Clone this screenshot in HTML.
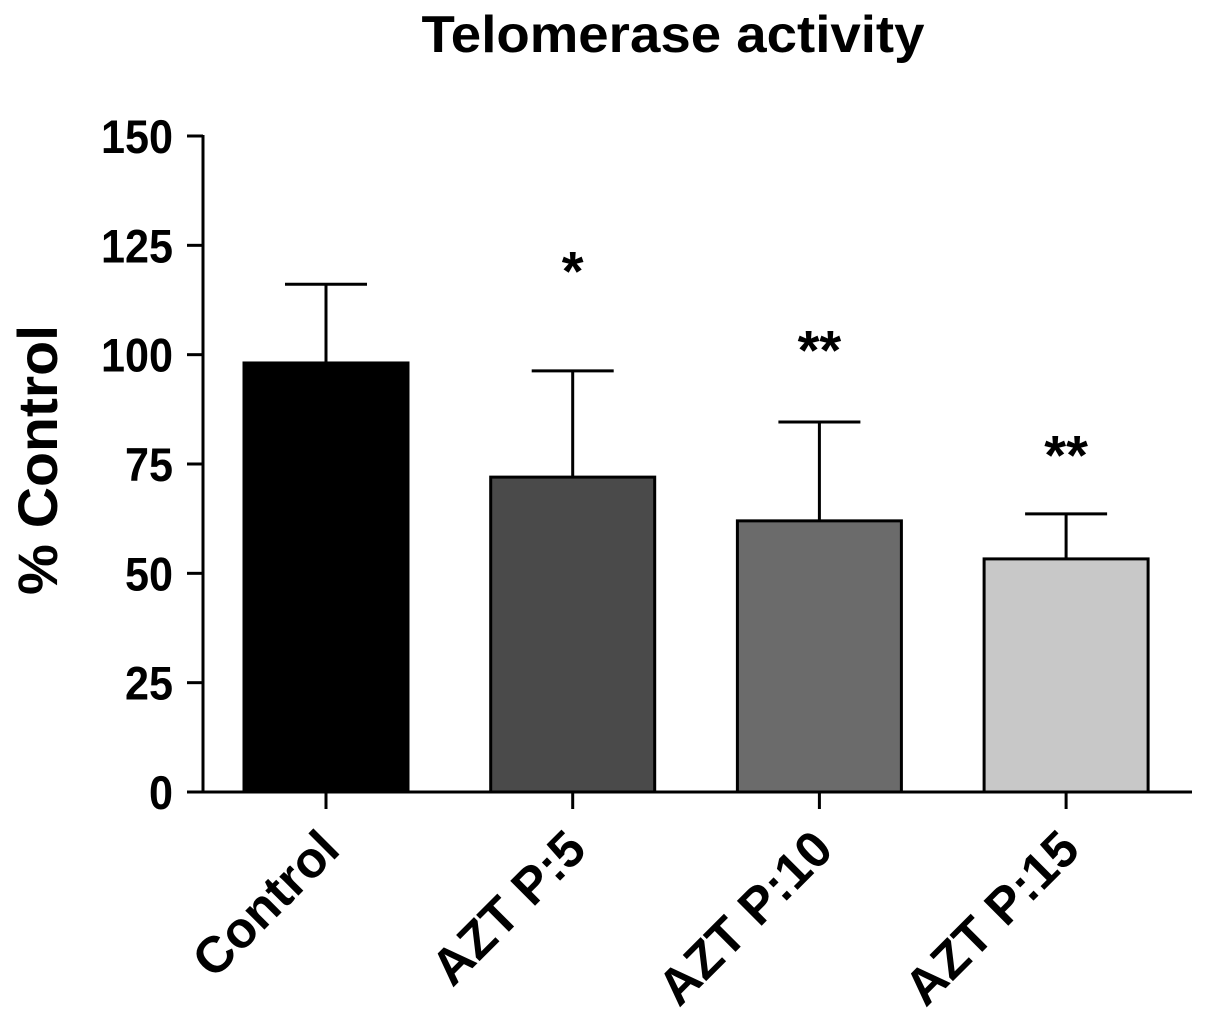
<!DOCTYPE html>
<html><head><meta charset="utf-8"><style>body{margin:0;background:#fff}</style></head>
<body>
<svg width="1205" height="1012" xmlns="http://www.w3.org/2000/svg" font-family="Liberation Sans, sans-serif" font-weight="bold">
<text x="673" y="52" text-anchor="middle" font-size="52" textLength="503" lengthAdjust="spacingAndGlyphs">Telomerase activity</text>
<text transform="translate(57,460) rotate(-90)" text-anchor="middle" font-size="56" textLength="270" lengthAdjust="spacingAndGlyphs">% Control</text>
<g id="plot"></g>
</svg>
<script>
const categories=["Control","AZT P:5","AZT P:10","AZT P:15"];
const values=[98.1,72,62,53.3];
const errors=[18,24.3,22.6,10.3];
const stars=["","*","**","**"];
const starValues=[0,121.5,103.5,79.5];
const yTicks=[0,25,50,75,100,125,150];
const colors=["#000000","#4a4a4a","#6b6b6b","#c8c8c8"];
const NS="http://www.w3.org/2000/svg";
const g=document.getElementById('plot');
const y0=792,y1=136,x0=203,x1=1192;
const y=v=>y0-(v/150)*(y0-y1);
const xc=i=>326+i*246.7;
function el(t,a,txt){const e=document.createElementNS(NS,t);for(const k in a)e.setAttribute(k,a[k]);if(txt!==undefined)e.textContent=txt;g.appendChild(e);return e;}
categories.forEach((c,i)=>{
 const cx=xc(i);
 const b=el('rect',{x:cx-82,y:y(values[i]),width:164,height:y0-y(values[i]),fill:colors[i],stroke:'#000','stroke-width':3});
 
 
 const eb=el('path',{d:`M${cx},${y(values[i])}V${y(values[i]+errors[i])}M${cx-41},${y(values[i]+errors[i])}H${cx+41}`,stroke:'#000','stroke-width':3,fill:'none'});
 
 
 if(stars[i]){const s=el('text',{x:cx,y:y(starValues[i])+30,'text-anchor':'middle','font-size':56},stars[i]);
 
 }
 const tk=el('line',{x1:cx,x2:cx,y1:y0,y2:y0+17,stroke:'#000','stroke-width':3});
 
 
 const lb=el('text',{transform:`translate(${cx+16},${852}) rotate(-45)`,'text-anchor':'end','font-size':51},c);
 
 
});
yTicks.forEach(v=>{
 const t=el('line',{x1:x0-16,x2:x0,y1:y(v),y2:y(v),stroke:'#000','stroke-width':3});
 
 
 const l=el('text',{x:173,y:y(v)+17,'text-anchor':'end','font-size':47,textLength:String(v).length*24,lengthAdjust:'spacingAndGlyphs'},v);
 
 
});
const ya=el('line',{x1:x0,x2:x0,y1:y1-1,y2:y0+1,stroke:'#000','stroke-width':3});


const xa=el('line',{x1:x0-1,x2:x1,y1:y0,y2:y0,stroke:'#000','stroke-width':3});


</script>
</body></html>
